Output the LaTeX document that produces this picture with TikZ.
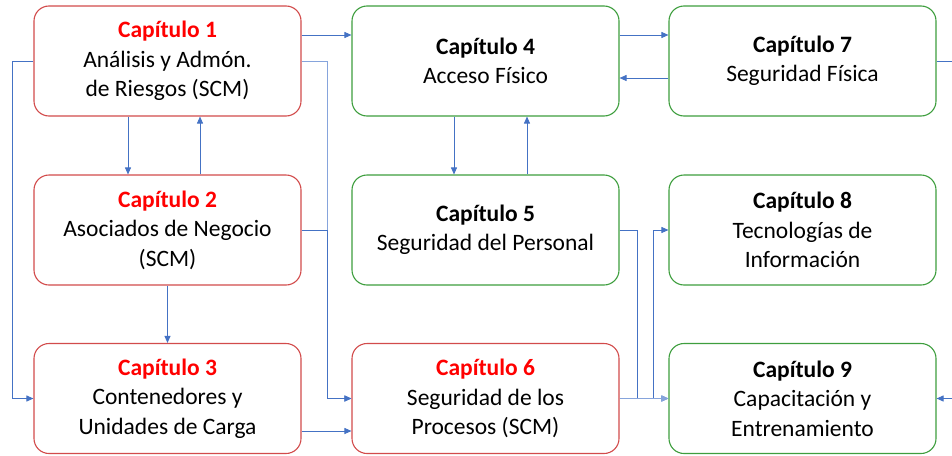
\documentclass[tikz,border=0pt]{standalone}
\usepackage{fontspec}
\setmainfont{Carlito}
\usepackage{xcolor}
\usepackage{tikz}
\usetikzlibrary{arrows.meta}
\definecolor{capred}{HTML}{FF0000}
\definecolor{redline}{HTML}{D24B4B}
\definecolor{greenline}{HTML}{3E9E3E}
\definecolor{conn}{HTML}{4472C4}
\definecolor{connlight}{HTML}{86A4DC}
\tikzset{
    box/.style = {rectangle, rounded corners=15pt, minimum width=267pt, minimum height=110pt, inner sep=0pt, align=center, fill=white, line width=1.1pt, font=\fontsize{23.5}{29.5}\selectfont},
    red_box/.style = {box, draw=redline},
    green_box/.style = {box, draw=greenline},
    link/.style = {draw=conn, line width=0.9pt, -{Triangle[length=7pt,width=6pt]}},
    plain_link/.style = {draw=conn, line width=0.9pt}
}
\newcommand{\capred}[1]{\textcolor{capred}{\textbf{Capítulo #1}}}
\newcommand{\capblk}[1]{\textbf{Capítulo #1}}

\begin{document}
\begin{tikzpicture}[x=1pt, y=-1pt]
    \useasboundingbox (0,0) rectangle (952,455);
    \clip (0,0) rectangle (952,455);
    % chapters
    \node [red_box] (c1) at (167.5,61) {\capred{1}\\Análisis y Admón.\\de Riesgos (SCM)};
    \node [red_box] (c2) at (167.5,230) {\capred{2}\\Asociados de Negocio\\(SCM)};
    \node [red_box] (c3) at (167.5,398.5) {\capred{3}\\Contenedores y\\Unidades de Carga};
    \node [green_box] (c4) at (485.5,61) {\capblk{4}\\Acceso Físico};
    \node [green_box] (c5) at (485.5,230) {\capblk{5}\\Seguridad del Personal};
    \node [red_box] (c6) at (485.5,398.5) {\capred{6}\\Seguridad de los\\Procesos (SCM)};
    \node [green_box] (c7) at (802.5,61) {\capblk{7}\\Seguridad Física};
    \node [green_box] (c8) at (802.5,230) {\capblk{8}\\Tecnologías de\\Información};
    \node [green_box] (c9) at (802.5,398.5) {\capblk{9}\\Capacitación y\\Entrenamiento};
    % bends
    \coordinate (left1) at (12,61);
    \coordinate (mid1) at (327,61);
    \coordinate (mid5) at (637.5,230);
    \coordinate (mid6) at (653,398.5);
    \coordinate (out7) at (975,61);
    % top row
    \draw [link] ([yshift=26pt]c1.east) -- ([yshift=26pt]c4.west);
    \draw [link] ([yshift=26pt]c4.east) -- ([yshift=26pt]c7.west);
    \draw [link] ([yshift=-17pt]c7.west) -- ([yshift=-17pt]c4.east);
    \draw [link] (c7.east) -- (out7) |- (c9.east);
    % up and down
    \draw [link] ([xshift=-39.5pt]c1.south) -- ([xshift=-39.5pt]c2.north);
    \draw [link] ([xshift=32.5pt]c2.north) -- ([xshift=32.5pt]c1.south);
    \draw [link] (c2.south) -- (c3.north);
    \draw [link] ([xshift=-31.5pt]c4.south) -- ([xshift=-31.5pt]c5.north);
    \draw [link] ([xshift=41.5pt]c5.north) -- ([xshift=41.5pt]c4.south);
    % round the sides
    \draw [link] (c1.west) -- (left1) |- (c3.west);
    \draw [link, draw=connlight] (c1.east) -- (mid1) |- (c6.west);
    \draw [link] (c2.east) -- (c2.east -| mid1) |- (c6.west);
    \draw [link] ([yshift=-32.5pt]c3.east) -- ([yshift=-32.5pt]c6.west);
    \draw [link] (c5.east) -- (mid5) |- (c9.west);
    \draw [link] (c6.east) -- (mid6) |- (c8.west);
    \draw [link, draw=connlight] (c6.east) -- (c9.west);
\end{tikzpicture}
\end{document}
